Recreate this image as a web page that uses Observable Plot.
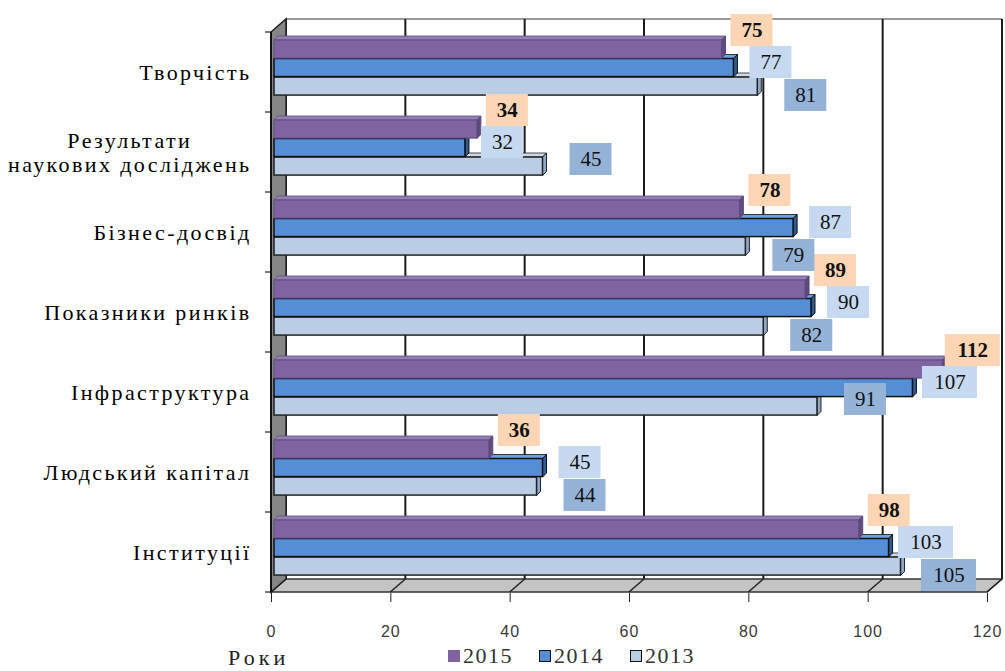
<!DOCTYPE html>
<html>
<head>
<meta charset="utf-8">
<script src="https://cdn.jsdelivr.net/npm/d3@7"></script>
<script src="https://cdn.jsdelivr.net/npm/@observablehq/plot@0.6"></script>
<style>
  body { margin: 0; background: #fff; }
  #wrap { position: relative; width: 1005px; height: 671px; overflow: hidden; background: #fff; }
  #wrap svg { display: block; }
  #wrap svg text { font-family: "Liberation Serif", "Times New Roman", serif !important; }
  #wrap svg g[aria-label="x-axis tick label"] text { font-family: "Liberation Sans", Arial, sans-serif !important; letter-spacing: 1px; }
  g[aria-label="y-axis tick label"] text { letter-spacing: 2.4px; }
  g[aria-label="value labels"] text { letter-spacing: 2px; }
  #legend { position: relative; width: 1005px; height: 31px; font-family: "Liberation Serif", "Times New Roman", serif; font-size: 22px; color: #333; }
  #legend .title { position: absolute; left: 228px; top: 7px; line-height: 22px; letter-spacing: 4px; color: #222; }
  #legend .items { position: absolute; left: 448px; top: 0; height: 31px; display: flex; align-items: center; line-height: 31px; }
  #legend .item { display: flex; align-items: center; margin-right: 26px; letter-spacing: 1.5px; }
  #legend .sw { width: 12px; height: 12px; margin-right: 3px; box-sizing: border-box; }
</style>
</head>
<body>
<div id="wrap"></div>
<script>
// ---- data ----
const categories = ["Творчість", "Результати\nнаукових досліджень", "Бізнес-досвід", "Показники ринків", "Інфраструктура", "Людський капітал", "Інституції"];
const years = ["2015", "2014", "2013"];
const values2015 = [75, 34, 78, 89, 112, 36, 98];
const values2014 = [77, 32, 87, 90, 107, 45, 103];
const values2013 = [81, 45, 79, 82, 91, 44, 105];
const xTicks = [0, 20, 40, 60, 80, 100, 120];
const legendTitle = "Роки";

// ---- styles ----
const W = 1005, H = 640, mTop = 30, mBottom = 47, mLeft = 271, mRight = 18;
const bandH = (H - mTop - mBottom) / categories.length;
const DEPTH = [15, -13];      // 3D wall offset
const BD = 4;                  // bar depth
const BAR_T = 18.5, BAR_OFF = 8, BAR_DX = 3;
const BOX_H = 32;
const style = {
  "2015": {front: "#8064A2", top: "#9580b3", side: "#5f4a7d", stroke: "#5f4a7d", box: "#FCD5B5", weight: "bold", ldx: 33, lrel: -2},
  "2014": {front: "#558ED5", top: "#6f9fde", side: "#2c5d96", stroke: "#111", box: "#C6D9F1", weight: "normal", ldx: 40, lrel: 30},
  "2013": {front: "#B9CDE5", top: "#cddaeb", side: "#8ea8c9", stroke: "#222", box: "#95B3D7", weight: "normal", ldx: 51, lrel: 47}
};

const seriesValues = {"2015": values2015, "2014": values2014, "2013": values2013};
const rowsOf = (y) => categories.map((c, i) => ({category: c, value: seriesValues[y][i], year: y}));
const rows = Object.fromEntries(years.map(y => [y, rowsOf(y)]));

function pts(a) { return a.map(p => p.join(",")).join(" "); }
function bandStep(scales) { return scales.y(categories[1]) - scales.y(categories[0]); }

// label placement: near each bar end, pushed down when it would collide with an earlier label
function labelLayout(scales) {
  const placed = [], out = {};
  categories.forEach((c, i) => {
    years.forEach(y => {
      const v = seriesValues[y][i], s = style[y];
      const w = 16 + 13 * String(v).length, h = BOX_H;
      const cx = scales.x(v) + s.ldx;
      let cy = scales.y(c) + s.lrel;
      let moved = true;
      while (moved) {
        moved = false;
        for (const p of placed) {
          if (Math.abs(p.cx - cx) < (p.w + w) / 2 - 2 && Math.abs(p.cy - cy) < (p.h + h) / 2 - 2) {
            cy = p.cy + (p.h + h) / 2 + 1; moved = true;
          }
        }
      }
      const p = {cx, cy, w, h};
      placed.push(p);
      out[y + "|" + c] = p;
    });
  });
  return out;
}

// 3D frame (walls, floor, back gridlines) from plot scales
function frame(index, scales) {
  const g = d3.create("svg:g").attr("aria-label", "frame");
  const x0 = scales.x(0), x1 = scales.x(xTicks[xTicks.length - 1]);
  const yT = scales.y(categories[0]);
  const step = bandStep(scales);
  const yB = yT + step * categories.length;
  const [dx, dy] = DEPTH;
  g.append("rect").attr("x", x0 + dx).attr("y", yT + dy).attr("width", x1 - x0).attr("height", yB - yT).attr("fill", "#fff");
  g.append("line").attr("x1", x0 + dx).attr("x2", x1 + dx).attr("y1", yT + dy).attr("y2", yT + dy).attr("stroke", "#999").attr("stroke-width", 2);
  for (const t of xTicks) {
    const xx = scales.x(t) + dx;
    g.append("line").attr("x1", xx).attr("x2", xx).attr("y1", yT + dy).attr("y2", yB + dy).attr("stroke", "#1a1a1a").attr("stroke-width", 2);
  }
  g.append("polygon").attr("points", pts([[x0, yB], [x1, yB], [x1 + dx, yB + dy], [x0 + dx, yB + dy]]))
    .attr("fill", "#C4C4C4").attr("stroke", "#333").attr("stroke-width", 1.3);
  for (const t of xTicks) {
    const xx = scales.x(t);
    g.append("line").attr("x1", xx).attr("x2", xx + dx).attr("y1", yB).attr("y2", yB + dy).attr("stroke", "#222").attr("stroke-width", 1.5);
  }
  g.append("polygon").attr("points", pts([[x0, yT], [x0 + dx, yT + dy], [x0 + dx, yB + dy], [x0, yB]]))
    .attr("fill", "#858585").attr("stroke", "#222").attr("stroke-width", 1.5);
  g.append("line").attr("x1", x0).attr("x2", x0).attr("y1", yT).attr("y2", yB).attr("stroke", "#111").attr("stroke-width", 2);
  for (let i = 0; i <= categories.length; i++) {
    const yy = yT + i * step;
    g.append("line").attr("x1", x0 - 6).attr("x2", x0).attr("y1", yy).attr("y2", yy).attr("stroke", "#222").attr("stroke-width", 1.2);
  }
  return g.node();
}

// 3D caps (top and end faces) of a series' bars
function caps(year, offTop) {
  return function (index, scales) {
    const s = style[year];
    const g = d3.create("svg:g").attr("aria-label", "bar caps " + year);
    for (const r of rows[year]) {
      const xs = scales.x(0) + BAR_DX, xe = scales.x(r.value) + BAR_DX;
      const yt = scales.y(r.category) + offTop, yb = yt + BAR_T;
      g.append("polygon").attr("points", pts([[xs, yt], [xe, yt], [xe + BD, yt - BD], [xs + BD, yt - BD]]))
        .attr("fill", s.top).attr("stroke", s.stroke).attr("stroke-width", 0.8);
      g.append("polygon").attr("points", pts([[xe, yt], [xe + BD, yt - BD], [xe + BD, yb - BD], [xe, yb]]))
        .attr("fill", s.side).attr("stroke", s.stroke).attr("stroke-width", 1);
    }
    return g.node();
  };
}

// label boxes
function boxes(year) {
  return function (index, scales) {
    const s = style[year];
    const L = labelLayout(scales);
    const g = d3.create("svg:g").attr("aria-label", "label boxes " + year);
    for (const r of rows[year]) {
      const p = L[year + "|" + r.category];
      g.append("rect").attr("x", p.cx - p.w / 2).attr("y", p.cy - p.h / 2).attr("width", p.w).attr("height", p.h).attr("fill", s.box);
    }
    return g.node();
  };
}

const marks = [frame];
const order = ["2013", "2014", "2015"];
const offsets = {"2015": BAR_OFF, "2014": BAR_OFF + BAR_T, "2013": BAR_OFF + 2 * BAR_T};
for (const y of order) {
  const s = style[y];
  const off = offsets[y];
  marks.push(caps(y, off));
  marks.push(Plot.barX(rows[y], {
    x: "value", y: "category", fill: s.front, stroke: s.stroke, strokeWidth: y === "2015" ? 1 : 1.5,
    insetTop: off, insetBottom: bandH - off - BAR_T, dx: BAR_DX
  }));
}
for (const y of years) marks.push(boxes(y));
for (const y of years) {
  const s = style[y];
  marks.push(Plot.text(rows[y], {
    x: "value", y: "category", text: d => String(d.value),
    fontSize: 21, fontWeight: s.weight, fontFamily: "Liberation Serif", fill: "#111", ariaLabel: "value labels",
    render(index, scales, values, dims, ctx, next) {
      const L = labelLayout(scales);
      const half = bandStep(scales) / 2;
      const X = Array.from(values.x), Y = Array.from(values.y);
      for (const i of index) {
        const p = L[y + "|" + rows[y][i].category];
        X[i] = p.cx; Y[i] = p.cy - half;
      }
      return next(index, scales, {...values, x: X, y: Y}, dims, ctx);
    }
  }));
}
marks.push(Plot.axisX({ticks: xTicks, tickSize: 9, tickPadding: 23, fontSize: 16, fill: "#3a3a3a", stroke: "#222", label: null}));
marks.push(Plot.axisY({tickSize: 0, tickPadding: 20, fontSize: 22, lineHeight: 1.08, fill: "#000", label: null}));

const chart = Plot.plot({
  width: W, height: H,
  marginTop: mTop, marginBottom: mBottom, marginLeft: mLeft, marginRight: mRight,
  style: {background: "#fff", overflow: "visible"},
  x: {domain: [xTicks[0], xTicks[xTicks.length - 1]], label: null},
  y: {domain: categories, padding: 0, label: null},
  marks
});
const wrap = document.getElementById("wrap");
wrap.appendChild(chart);

// legend
const legend = document.createElement("div");
legend.id = "legend";
const t = document.createElement("span");
t.className = "title"; t.textContent = legendTitle;
legend.appendChild(t);
const items = document.createElement("div");
items.className = "items";
for (const y of years) {
  const it = document.createElement("span"); it.className = "item";
  const sw = document.createElement("span"); sw.className = "sw";
  sw.style.background = style[y].front;
  sw.style.border = y === "2015" ? "none" : "1.5px solid #111";
  it.appendChild(sw);
  it.appendChild(document.createTextNode(y));
  items.appendChild(it);
}
legend.appendChild(items);
wrap.appendChild(legend);

// center the lines of multi-line category labels within their block
for (const txt of chart.querySelectorAll('g[aria-label="y-axis tick label"] text')) {
  const spans = txt.querySelectorAll("tspan");
  if (spans.length > 1) {
    const bb = txt.getBBox();
    const cx = bb.x + bb.width / 2;
    txt.setAttribute("text-anchor", "middle");
    for (const sp of spans) sp.setAttribute("x", cx);
  }
}
</script>
</body>
</html>
